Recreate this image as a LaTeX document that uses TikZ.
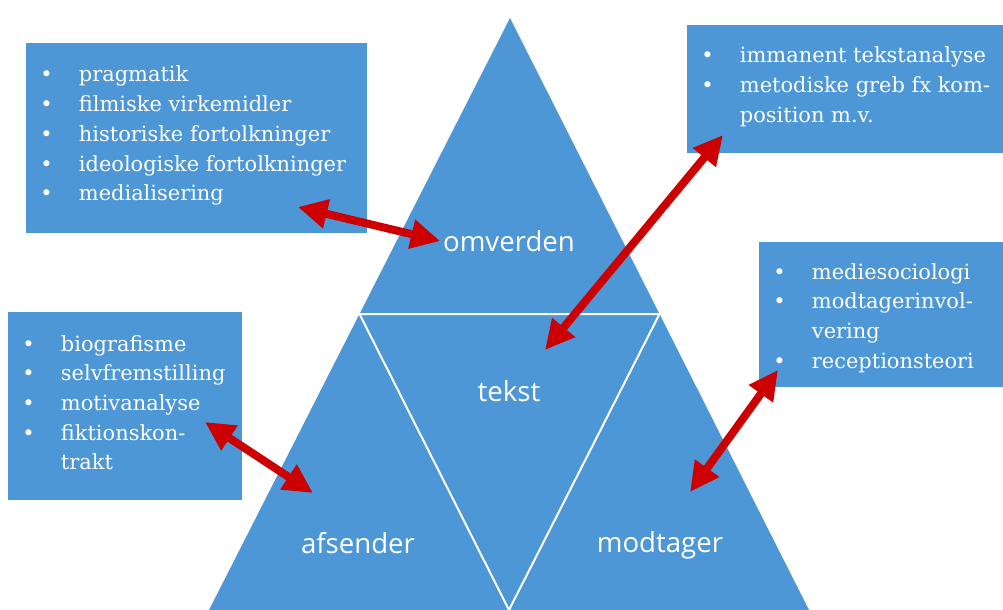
\documentclass[tikz,border=0pt]{standalone}
\usepackage{fontspec}
\setmainfont{DejaVu Serif}
\newfontfamily\labelfont{Open Sans}
\usetikzlibrary{arrows.meta,fit}

\definecolor{panelblue}{RGB}{78,151,214}
\definecolor{arrowred}{RGB}{204,0,0}

\newcommand{\bul}{\makebox[29pt][l]{\textbullet}}
\newcommand{\cont}{\hspace*{29pt}}

\tikzset{
    panel/.style={fill=panelblue, draw=none, inner sep=0pt},
    items/.style={text=white, inner sep=0pt, anchor=base west, font=\fontsize{15.7}{22.3}\selectfont},
    part/.style={text=white, inner sep=2pt, font=\labelfont\fontsize{20.7}{24}\selectfont},
    link/.style={arrowred, line width=6pt, {Triangle[length=22pt,width=21pt]}-{Triangle[length=22pt,width=21pt]}}
}

\begin{document}
\begin{tikzpicture}[x=0.75pt,y=-0.75pt]
        \useasboundingbox (0,0) rectangle (1003,610);

        % triangle and its four parts
        \fill[panelblue] (510,18) -- (209,610) -- (809,610) -- cycle;
        \draw[white, line width=1.5pt] (359.5,314) -- (659.5,314) -- (509,610) -- cycle;

        \node[part] (omverden) at (509,241) {omverden};
        \node[part] (tekst) at (509,391) {tekst};
        \node[part] (afsender) at (358,543) {afsender};
        \node[part] (modtager) at (660,545) {modtager};

        % boxes
        \node[panel, fit={(26,43) (367,233)}] (omvbox) {};
        \node[panel, fit={(687,25) (1003,153)}] (tekstbox) {};
        \node[panel, fit={(8,312) (242,500)}] (afsbox) {};
        \node[panel, fit={(759,242) (1003,387)}] (modbox) {};

        \node[items] (omvlist) at (40,82) {\begin{tabular}[t]{@{}l@{}}
            \bul pragmatik\\ \bul filmiske virkemidler\\ \bul historiske fortolkninger\\ \bul ideologiske fortolkninger\\ \bul medialisering
        \end{tabular}};
        \node[items] (tekstlist) at (701,63) {\begin{tabular}[t]{@{}l@{}}
            \bul immanent tekstanalyse\\ \bul metodiske greb fx kom-\\ \cont position m.v.
        \end{tabular}};
        \node[items] (afslist) at (22,351) {\begin{tabular}[t]{@{}l@{}}
            \bul biografisme\\ \bul selvfremstilling\\ \bul motivanalyse\\ \bul fiktionskon-\\ \cont trakt
        \end{tabular}};
        \node[items] (modlist) at (773,279) {\begin{tabular}[t]{@{}l@{}}
            \bul mediesociologi\\ \bul modtagerinvol-\\ \cont vering\\ \bul receptionsteori
        \end{tabular}};

        % arrows
        \coordinate (omvbox-end) at (298,207);
        \coordinate (tekstbox-end) at (723,135);
        \coordinate (tekst-end) at (545,350);
        \coordinate (afsbox-end) at (205,422);
        \coordinate (afsender-end) at (313,493);
        \coordinate (modbox-end) at (778,370);
        \coordinate (modtager-end) at (690,492);

        \draw[link] (omvbox-end) -- (omverden.west);
        \draw[link] (tekstbox-end) -- (tekst-end);
        \draw[link] (afsbox-end) -- (afsender-end);
        \draw[link] (modbox-end) -- (modtager-end);
    \end{tikzpicture}
\end{document}
